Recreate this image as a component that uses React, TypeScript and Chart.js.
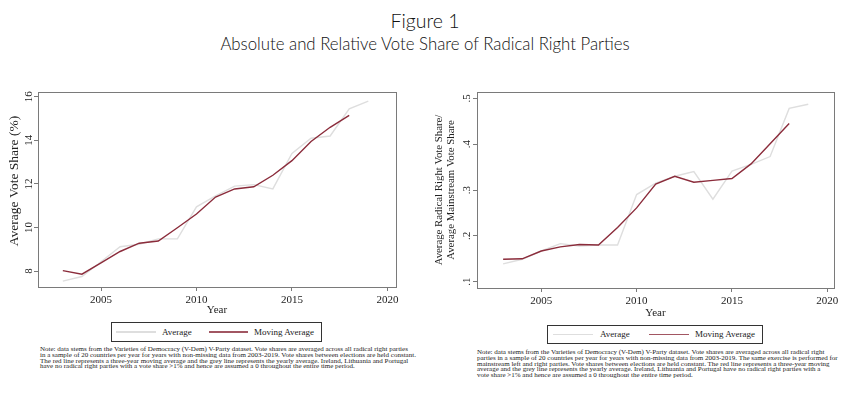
import React, { useEffect, useRef } from 'react';
import { Chart, registerables } from 'chart.js';

Chart.register(...registerables);

// ---------- data ----------
const avgYears = [2003, 2004, 2005, 2006, 2007, 2008, 2009, 2010, 2011, 2012, 2013, 2014, 2015, 2016, 2017, 2018, 2019];
const maYears = [2003, 2004, 2005, 2006, 2007, 2008, 2009, 2010, 2011, 2012, 2013, 2014, 2015, 2016, 2017, 2018];

const leftAverage = [7.54, 7.75, 8.43, 9.12, 9.23, 9.48, 9.48, 10.95, 11.45, 11.9, 11.97, 11.77, 13.4, 14.1, 14.2, 15.45, 15.8];
const leftMoving = [8.02, 7.86, 8.38, 8.9, 9.28, 9.38, 9.99, 10.62, 11.4, 11.77, 11.87, 12.4, 13.07, 13.95, 14.6, 15.15];

const rightAverage = [0.139, 0.149, 0.167, 0.183, 0.178, 0.18, 0.18, 0.29, 0.315, 0.33, 0.34, 0.28, 0.341, 0.356, 0.373, 0.478, 0.487];
const rightMoving = [0.149, 0.15, 0.167, 0.176, 0.181, 0.18, 0.218, 0.261, 0.313, 0.33, 0.317, 0.321, 0.325, 0.357, 0.401, 0.445];

const xTicks = [2005, 2010, 2015, 2020];
const leftYTicks = [8, 10, 12, 14, 16];
const leftYTickLabels = ['8', '10', '12', '14', '16'];
const rightYTicks = [0.1, 0.2, 0.3, 0.4, 0.5];
const rightYTickLabels = ['.1', '.2', '.3', '.4', '.5'];

const seriesNames = ['Average', 'Moving Average'];

const figureTitle = 'Figure 1';
const figureSubtitle = 'Absolute and Relative Vote Share of Radical Right Parties';

const leftNote = [
  'Note: data stems from the Varieties of Democracy (V-Dem) V-Party dataset. Vote shares are averaged across all radical right parties',
  'in a sample of 20 countries per year for years with non-missing data from 2003-2019. Vote shares between elections are held constant.',
  'The red line represents a three-year moving average and the grey line represents the yearly average. Ireland, Lithuania and Portugal',
  'have no radical right parties with a vote share >1% and hence are assumed a 0 throughout the entire time period.',
];
const rightNote = [
  'Note: data stems from the Varieties of Democracy (V-Dem) V-Party dataset. Vote shares are averaged across all radical right',
  'parties in a sample of 20 countries per year for years with non-missing data from 2003-2019. The same exercise is performed for',
  'mainstream left and right parties. Vote shares between elections are held constant. The red line represents a three-year moving',
  'average and the grey line represents the yearly average. Ireland, Lithuania and Portugal have no radical right parties with a',
  'vote share >1% and hence are assumed a 0 throughout the entire time period.',
];

// ---------- styles ----------
const RED = '#8b2c3b';
const GREY = '#dedede';
const FRAME = '#7a7a7a';
const TEXT = '#222222';
const SERIF = '"Liberation Serif", "Times New Roman", serif';
const SANS = 'Lato, "Open Sans", sans-serif';

type PanelCfg = {
  left: number;
  top: number;
  width: number;
  height: number;
  padTop: number;
  padRight: number;
  yAxisWidth: number;
  xAxisHeight: number;
  xMin: number;
  xMax: number;
  yMin: number;
  yMax: number;
  yTicks: number[];
  yTickLabels: string[];
  average: number[];
  moving: number[];
  yTitle: string[];
  yTitleX: number;
  yTitleGap: number;
  yTitleFont: number;
  yTitleCenter: number;
  yLabelX: number;
  xTitlePadBottom: number;
};

function Panel({ cfg }: { cfg: PanelCfg }) {
  const ref = useRef<HTMLCanvasElement>(null);
  useEffect(() => {
    const canvas = ref.current!;
    const framePlugin = {
      id: 'stataFrame',
      afterDraw(chart: any) {
        const ctx = chart.ctx;
        const a = chart.chartArea;
        ctx.save();
        ctx.strokeStyle = FRAME;
        ctx.lineWidth = 1;
        ctx.strokeRect(Math.round(a.left) + 0.5, Math.round(a.top) + 0.5, Math.round(a.right - a.left), Math.round(a.bottom - a.top));
        const ys = chart.scales.y;
        ctx.fillStyle = TEXT;
        ctx.textAlign = 'center';
        ctx.textBaseline = 'middle';
        ctx.font = `11px ${SERIF}`;
        cfg.yTicks.forEach((v, i) => {
          const py = ys.getPixelForValue(v);
          ctx.save();
          ctx.translate(cfg.yLabelX, py);
          ctx.rotate(-Math.PI / 2);
          ctx.fillText(cfg.yTickLabels[i], 0, 0);
          ctx.restore();
        });
        ctx.font = `${cfg.yTitleFont}px ${SERIF}`;
        cfg.yTitle.forEach((line, i) => {
          ctx.save();
          ctx.translate(cfg.yTitleX + i * cfg.yTitleGap, cfg.yTitleCenter);
          ctx.rotate(-Math.PI / 2);
          ctx.fillText(line, 0, 0);
          ctx.restore();
        });
        ctx.restore();
      },
    };

    const chart = new Chart(canvas, {
      type: 'line',
      data: {
        datasets: [
          {
            label: seriesNames[1],
            data: maYears.map((yr, i) => ({ x: yr, y: cfg.moving[i] })),
            borderColor: RED,
            borderWidth: 1.4,
            pointRadius: 0,
            tension: 0,
            order: 0,
          },
          {
            label: seriesNames[0],
            data: avgYears.map((yr, i) => ({ x: yr, y: cfg.average[i] })),
            borderColor: GREY,
            borderWidth: 1.4,
            pointRadius: 0,
            tension: 0,
            order: 1,
          },
        ],
      },
      options: {
        animation: false,
        responsive: false,
        events: [],
        layout: { padding: { top: cfg.padTop, right: cfg.padRight, left: 0, bottom: 0 } },
        plugins: { legend: { display: false }, tooltip: { enabled: false } },
        scales: {
          x: {
            type: 'linear',
            min: cfg.xMin,
            max: cfg.xMax,
            afterBuildTicks: (s: any) => {
              s.ticks = xTicks.map((v) => ({ value: v }));
            },
            afterFit: (s: any) => {
              s.height = cfg.xAxisHeight;
            },
            ticks: {
              autoSkip: false,
              maxRotation: 0,
              minRotation: 0,
              padding: 3,
              color: TEXT,
              font: { family: SERIF, size: 11 },
              callback: (v: any) => String(v),
            },
            grid: { display: true, drawOnChartArea: false, drawTicks: true, tickLength: 4, color: FRAME },
            border: { display: false },
            title: {
              display: true,
              text: 'Year',
              color: TEXT,
              font: { family: SERIF, size: 11 },
              padding: { top: 0, bottom: cfg.xTitlePadBottom },
            },
          },
          y: {
            type: 'linear',
            min: cfg.yMin,
            max: cfg.yMax,
            afterBuildTicks: (s: any) => {
              s.ticks = cfg.yTicks.map((v) => ({ value: v }));
            },
            afterFit: (s: any) => {
              s.width = cfg.yAxisWidth;
            },
            ticks: { display: false },
            grid: { display: true, drawOnChartArea: false, drawTicks: true, tickLength: 4, color: FRAME },
            border: { display: false },
          },
        },
      },
      plugins: [framePlugin],
    } as any);
    return () => chart.destroy();
  }, []);
  return (
    <canvas
      ref={ref}
      width={cfg.width}
      height={cfg.height}
      style={{ position: 'absolute', left: cfg.left, top: cfg.top, width: cfg.width, height: cfg.height }}
    />
  );
}

function Legend({ left, top, width, height, g0, g1, t0, r0, r1, t1 }: any) {
  const lineY = height / 2;
  const textStyle: React.CSSProperties = {
    position: 'absolute',
    top: -1,
    height: height,
    lineHeight: `${height}px`,
    fontFamily: SERIF,
    fontSize: 9,
    color: TEXT,
    whiteSpace: 'nowrap',
  };
  return (
    <div style={{ position: 'absolute', left, top, width, height, border: '1px solid #333', boxSizing: 'border-box' }}>
      <div style={{ position: 'absolute', left: g0 - left, top: lineY - 2, width: g1 - g0, height: 1.5, background: GREY }} />
      <div style={{ ...textStyle, left: t0 - left }}>{seriesNames[0]}</div>
      <div style={{ position: 'absolute', left: r0 - left, top: lineY - 2, width: r1 - r0, height: 1.5, background: RED, opacity: 0.8 }} />
      <div style={{ ...textStyle, left: t1 - left }}>{seriesNames[1]}</div>
    </div>
  );
}

function Note({ left, top, lines }: { left: number; top: number; lines: string[] }) {
  return (
    <div style={{ position: 'absolute', left, top, fontFamily: SERIF, fontSize: 7, lineHeight: '5.8px', color: TEXT, whiteSpace: 'nowrap' }}>
      {lines.map((l, i) => (
        <div key={i}>{l}</div>
      ))}
    </div>
  );
}

const leftCfg: PanelCfg = {
  left: 0,
  top: 80,
  width: 410,
  height: 240,
  padTop: 12,
  padRight: 14,
  yAxisWidth: 38,
  xAxisHeight: 33,
  xMin: 2001.7,
  xMax: 2020.45,
  yMin: 7.27,
  yMax: 16.22,
  yTicks: leftYTicks,
  yTickLabels: leftYTickLabels,
  average: leftAverage,
  moving: leftMoving,
  yTitle: ['Average Vote Share (%)'],
  yTitleX: 14,
  yTitleGap: 0,
  yTitleFont: 13.5,
  yTitleCenter: 101,
  yLabelX: 29,
  xTitlePadBottom: 3,
};

const rightCfg: PanelCfg = {
  left: 420,
  top: 80,
  width: 430,
  height: 240,
  padTop: 12,
  padRight: 16,
  yAxisWidth: 57,
  xAxisHeight: 32,
  xMin: 2001.63,
  xMax: 2020.35,
  yMin: 0.0863,
  yMax: 0.5137,
  yTicks: rightYTicks,
  yTickLabels: rightYTickLabels,
  average: rightAverage,
  moving: rightMoving,
  yTitle: ['Average Radical Right Vote Share/', 'Average Mainstream Vote Share'],
  yTitleX: 19,
  yTitleGap: 12.5,
  yTitleFont: 10.8,
  yTitleCenter: 110,
  yLabelX: 47,
  xTitlePadBottom: 0,
};

export default function App() {
  return (
    <div style={{ position: 'fixed', left: 0, top: 0, width: 850, height: 398, background: '#fff', overflow: 'hidden' }}>
      <div style={{ position: 'absolute', left: 0, width: 850, top: 9, textAlign: 'center', fontFamily: SANS, fontWeight: 300, fontSize: 19.5, lineHeight: '24px', color: '#111' }}>
        {figureTitle}
      </div>
      <div style={{ position: 'absolute', left: 0, width: 850, top: 34, textAlign: 'center', fontFamily: SANS, fontWeight: 300, fontSize: 16.8, lineHeight: '20px', color: '#111' }}>
        {figureSubtitle}
      </div>
      <Panel cfg={leftCfg} />
      <Panel cfg={rightCfg} />
      <Legend left={111} top={322} width={211} height={20} g0={115} g1={155} t0={161} r0={208} r1={247} t1={253} />
      <Legend left={547} top={325} width={216} height={19} g0={552} g1={592} t0={599} r0={648} r1={688} t1={694} />
      <Note left={40} top={347} lines={leftNote} />
      <Note left={477} top={350} lines={rightNote} />
    </div>
  );
}
